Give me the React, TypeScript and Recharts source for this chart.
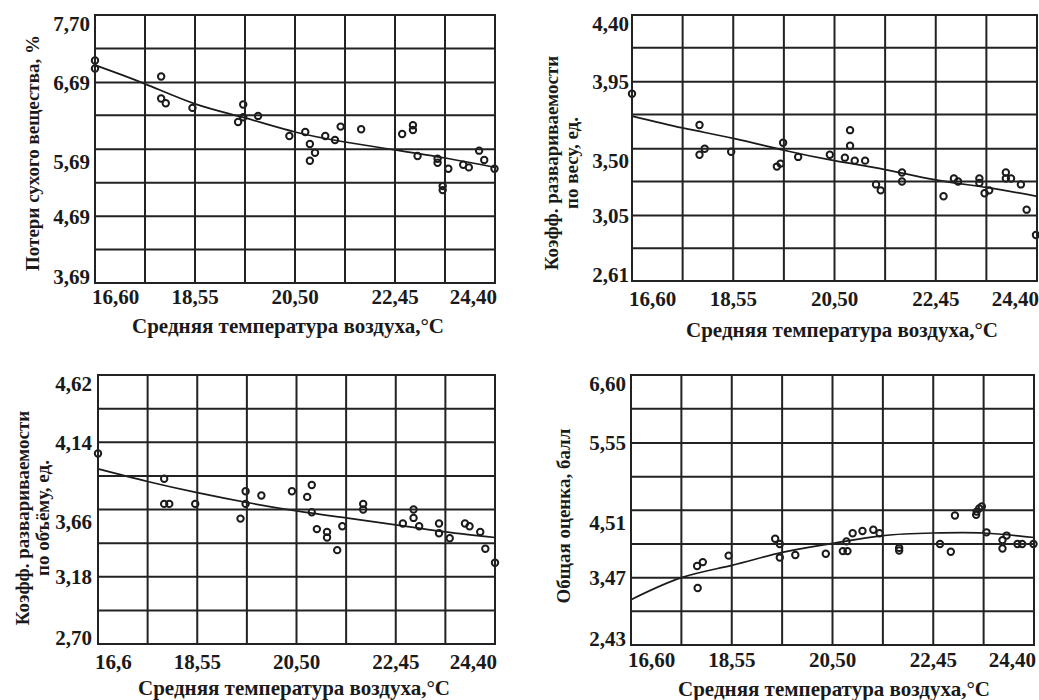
import React from 'react';
import { ComposedChart, Scatter, Line, XAxis, YAxis } from 'recharts';

// x grid: 8 columns, labels every second line
const xTicks = [16.6, 17.575, 18.55, 19.525, 20.5, 21.475, 22.45, 23.425, 24.4];
const xTickLabels = ['16,60', '', '18,55', '', '20,50', '', '22,45', '', '24,40'];
const xTickLabelsShort = ['16,6', '', '18,55', '', '20,50', '', '22,45', '', '24,40'];
const xTitle = 'Средняя температура воздуха,°С';

// панель 1 — потери сухого вещества
const lossTicks = [3.69, 4.19, 4.69, 5.19, 5.69, 6.2, 6.69, 7.2, 7.7];
const lossTickLabels = ['3,69', '', '4,69', '', '5,69', '', '6,69', '', '7,70'];
const lossCurve = [6.95, 6.67, 6.37, 6.16, 5.95, 5.8, 5.68, 5.56, 5.42];
const lossPoints = [
  { x: 16.6, y: 7.02 }, { x: 16.6, y: 6.9 }, { x: 17.89, y: 6.78 }, { x: 17.89, y: 6.45 },
  { x: 17.98, y: 6.38 }, { x: 18.5, y: 6.31 }, { x: 19.39, y: 6.1 }, { x: 19.49, y: 6.36 },
  { x: 19.49, y: 6.17 }, { x: 19.78, y: 6.19 }, { x: 20.39, y: 5.89 }, { x: 20.7, y: 5.95 },
  { x: 20.79, y: 5.77 }, { x: 20.79, y: 5.52 }, { x: 20.89, y: 5.64 }, { x: 21.09, y: 5.89 },
  { x: 21.28, y: 5.83 }, { x: 21.39, y: 6.03 }, { x: 21.79, y: 5.99 }, { x: 22.59, y: 5.92 },
  { x: 22.8, y: 6.05 }, { x: 22.8, y: 5.98 }, { x: 22.89, y: 5.59 }, { x: 23.28, y: 5.55 },
  { x: 23.28, y: 5.49 }, { x: 23.38, y: 5.14 }, { x: 23.38, y: 5.08 }, { x: 23.49, y: 5.4 },
  { x: 23.78, y: 5.46 }, { x: 23.89, y: 5.42 }, { x: 24.09, y: 5.67 }, { x: 24.19, y: 5.53 },
  { x: 24.39, y: 5.4 },
];

// панель 2 — коэфф. развариваемости по весу
const weightTicks = [2.61, 2.83, 3.05, 3.28, 3.5, 3.73, 3.95, 4.18, 4.4];
const weightTickLabels = ['2,61', '', '3,05', '', '3,50', '', '3,95', '', '4,40'];
const weightCurve = [3.72, 3.64, 3.57, 3.49, 3.42, 3.36, 3.29, 3.24, 3.18];
const weightPoints = [
  { x: 16.6, y: 3.87 }, { x: 17.9, y: 3.66 }, { x: 17.9, y: 3.46 }, { x: 18.0, y: 3.5 },
  { x: 18.51, y: 3.48 }, { x: 19.39, y: 3.38 }, { x: 19.46, y: 3.4 }, { x: 19.51, y: 3.54 },
  { x: 19.8, y: 3.445 }, { x: 20.41, y: 3.46 }, { x: 20.7, y: 3.44 }, { x: 20.8, y: 3.625 },
  { x: 20.8, y: 3.52 }, { x: 20.89, y: 3.42 }, { x: 21.09, y: 3.42 }, { x: 21.3, y: 3.26 },
  { x: 21.39, y: 3.22 }, { x: 21.8, y: 3.34 }, { x: 21.8, y: 3.28 }, { x: 22.6, y: 3.18 },
  { x: 22.8, y: 3.3 }, { x: 22.88, y: 3.28 }, { x: 23.29, y: 3.3 }, { x: 23.29, y: 3.27 },
  { x: 23.39, y: 3.2 }, { x: 23.48, y: 3.22 }, { x: 23.8, y: 3.34 }, { x: 23.8, y: 3.3 },
  { x: 23.9, y: 3.3 }, { x: 24.09, y: 3.26 }, { x: 24.2, y: 3.09 }, { x: 24.38, y: 2.92 },
];

// панель 3 — коэфф. развариваемости по объёму
const volumeTicks = [2.7, 2.94, 3.18, 3.42, 3.66, 3.9, 4.14, 4.38, 4.62];
const volumeTickLabels = ['2,70', '', '3,18', '', '3,66', '', '4,14', '', '4,62'];
const volumeCurve = [3.95, 3.86, 3.78, 3.71, 3.65, 3.6, 3.55, 3.5, 3.46];
const volumePoints = [
  { x: 16.6, y: 4.06 }, { x: 17.9, y: 3.88 }, { x: 17.9, y: 3.7 }, { x: 18.0, y: 3.7 },
  { x: 18.51, y: 3.7 }, { x: 19.4, y: 3.595 }, { x: 19.5, y: 3.79 }, { x: 19.5, y: 3.7 },
  { x: 19.81, y: 3.76 }, { x: 20.41, y: 3.79 }, { x: 20.71, y: 3.75 }, { x: 20.8, y: 3.835 },
  { x: 20.8, y: 3.64 }, { x: 20.9, y: 3.52 }, { x: 21.1, y: 3.5 }, { x: 21.1, y: 3.46 },
  { x: 21.3, y: 3.37 }, { x: 21.4, y: 3.54 }, { x: 21.81, y: 3.7 }, { x: 21.81, y: 3.66 },
  { x: 22.59, y: 3.56 }, { x: 22.8, y: 3.66 }, { x: 22.8, y: 3.6 }, { x: 22.91, y: 3.54 },
  { x: 23.3, y: 3.56 }, { x: 23.3, y: 3.49 }, { x: 23.51, y: 3.455 }, { x: 23.81, y: 3.56 },
  { x: 23.9, y: 3.54 }, { x: 24.11, y: 3.5 }, { x: 24.21, y: 3.38 }, { x: 24.4, y: 3.28 },
];

// панель 4 — общая оценка
const scoreTicks = [2.43, 2.95, 3.47, 3.99, 4.51, 5.03, 5.55, 6.08, 6.6];
const scoreTickLabels = ['2,43', '', '3,47', '', '4,51', '', '5,55', '', '6,60'];
const scoreCurve = [3.13, 3.47, 3.66, 3.86, 4.0, 4.12, 4.16, 4.16, 4.09];
const scorePoints = [
  { x: 17.88, y: 3.65 }, { x: 17.99, y: 3.71 }, { x: 17.89, y: 3.31 }, { x: 18.49, y: 3.81 },
  { x: 19.39, y: 4.07 }, { x: 19.48, y: 3.99 }, { x: 19.48, y: 3.78 }, { x: 19.78, y: 3.82 },
  { x: 20.37, y: 3.84 }, { x: 20.7, y: 3.88 }, { x: 20.79, y: 3.88 }, { x: 20.77, y: 4.03 },
  { x: 20.89, y: 4.155 }, { x: 21.08, y: 4.19 }, { x: 21.29, y: 4.21 }, { x: 21.41, y: 4.155 },
  { x: 21.79, y: 3.93 }, { x: 21.79, y: 3.89 }, { x: 22.58, y: 3.99 }, { x: 22.79, y: 3.87 },
  { x: 22.87, y: 4.43 }, { x: 23.28, y: 4.44 }, { x: 23.29, y: 4.49 }, { x: 23.34, y: 4.54 },
  { x: 23.39, y: 4.57 }, { x: 23.48, y: 4.17 }, { x: 23.79, y: 4.05 }, { x: 23.79, y: 3.92 },
  { x: 23.87, y: 4.12 }, { x: 24.08, y: 3.99 }, { x: 24.17, y: 3.99 }, { x: 24.39, y: 3.99 },
];

const FONT = "'Liberation Serif', 'DejaVu Serif', serif";
const INK = '#1a1a1a';
const GRID = '#222';
const X_MIN = xTicks[0];
const X_MAX = xTicks[xTicks.length - 1];

const Ring = (props: any) => {
  const { cx, cy } = props;
  if (cx == null || cy == null) return null;
  return <circle cx={cx} cy={cy} r={3.2} fill="none" stroke={INK} strokeWidth={2} />;
};

type PanelProps = {
  left: number;
  top: number;
  plotLeft: number;
  plotRight: number;
  plotTop: number;
  plotBottom: number;
  yTicks: number[];
  yLabels: string[];
  xLabels: string[];
  curve: number[];
  points: { x: number; y: number }[];
  yTitle: string[];
  yTitleX: number;
  yTitleY: number;
  xTitleX: number;
  xTitleY: number;
  xTickY: number;
  yTickGap: number;
};

const textStyle = { fontFamily: FONT, fontWeight: 700, color: INK, whiteSpace: 'nowrap' as const };

function Panel(p: PanelProps) {
  const width = 520;
  const height = 350;
  const yMin = p.yTicks[0];
  const yMax = p.yTicks[p.yTicks.length - 1];
  const curveData = xTicks.map((x, i) => ({ x, y: p.curve[i] }));

  // same linear mapping as the chart axes, used for the grid overlay
  const sx = (v: number) => p.plotLeft + ((v - X_MIN) / (X_MAX - X_MIN)) * (p.plotRight - p.plotLeft);
  const sy = (v: number) => p.plotBottom - ((v - yMin) / (yMax - yMin)) * (p.plotBottom - p.plotTop);

  const xTick = (t: any) => {
    const i = t.index;
    const label = p.xLabels[i];
    if (!label) return <g />;
    let anchor = 'middle';
    let x = t.x;
    if (i === 0) { anchor = 'start'; x = p.plotLeft - 3; }
    if (i === xTicks.length - 1) { anchor = 'end'; x = p.plotRight + 2; }
    return (
      <text x={x} y={p.xTickY} textAnchor={anchor} dy="0.35em"
        fontFamily={FONT} fontWeight={700} fontSize={21} fill={INK}>{label}</text>
    );
  };

  const yTick = (t: any) => {
    const i = t.index;
    const label = p.yLabels[i];
    if (!label) return <g />;
    let y = t.y;
    if (i === 0) y = p.plotBottom - 6;
    if (i === p.yTicks.length - 1) y = p.plotTop + 9;
    if (i === 4) y += 12;
    return (
      <text x={p.plotLeft - p.yTickGap} y={y} textAnchor="end" dy="0.35em"
        fontFamily={FONT} fontWeight={700} fontSize={21} fill={INK}>{label}</text>
    );
  };

  return (
    <div style={{ position: 'absolute', left: p.left, top: p.top, width, height }}>
      <ComposedChart width={width} height={height}
        margin={{ top: p.plotTop, right: width - p.plotRight, left: 0, bottom: 0 }}>
        <XAxis type="number" dataKey="x" domain={[X_MIN, X_MAX]} ticks={xTicks} interval={0}
          height={height - p.plotBottom} axisLine={false} tickLine={false} tick={xTick} />
        <YAxis type="number" dataKey="y" domain={[yMin, yMax]} ticks={p.yTicks} interval={0}
          width={p.plotLeft} axisLine={false} tickLine={false} tick={yTick} />
        <Line data={curveData} dataKey="y" type="natural" stroke={INK} strokeWidth={1.7}
          dot={false} activeDot={false} isAnimationActive={false} />
        <Scatter data={p.points} dataKey="y" shape={<Ring />} isAnimationActive={false} />
      </ComposedChart>
      {/* grid */}
      <svg width={width} height={height} style={{ position: 'absolute', left: 0, top: 0, pointerEvents: 'none' }}>
        {xTicks.map((v) => (
          <line key={'gx' + v} x1={sx(v)} x2={sx(v)} y1={p.plotTop - 1} y2={p.plotBottom + 1}
            stroke={GRID} strokeWidth={2} />
        ))}
        {p.yTicks.map((v) => (
          <line key={'gy' + v} x1={p.plotLeft - 1} x2={p.plotRight + 1} y1={sy(v)} y2={sy(v)}
            stroke={GRID} strokeWidth={2} />
        ))}
      </svg>
      {/* axis titles */}
      <div style={{ ...textStyle, position: 'absolute', left: p.yTitleX, top: p.yTitleY, fontSize: 19,
        lineHeight: '20px', textAlign: 'center', transform: 'translate(-50%, -50%) rotate(-90deg)' }}>
        {p.yTitle.map((line) => <div key={line}>{line}</div>)}
      </div>
      <div style={{ ...textStyle, position: 'absolute', left: p.xTitleX, top: p.xTitleY, fontSize: 21,
        lineHeight: '21px', transform: 'translate(-50%, -80%)' }}>{xTitle}</div>
    </div>
  );
}

export default function App() {
  return (
    <div style={{ position: 'absolute', left: 0, top: 0, width: 1039, height: 700, background: '#fff' }}>
      <Panel left={0} top={0} plotLeft={95} plotRight={495} plotTop={15} plotBottom={283}
        yTicks={lossTicks} yLabels={lossTickLabels} xLabels={xTickLabels}
        curve={lossCurve} points={lossPoints}
        yTitle={['Потери сухого вещества, %']} yTitleX={33} yTitleY={153}
        xTitleX={288} xTitleY={333} xTickY={297} yTickGap={5} />
      <Panel left={519} top={0} plotLeft={113} plotRight={518} plotTop={15} plotBottom={281}
        yTicks={weightTicks} yLabels={weightTickLabels} xLabels={xTickLabels}
        curve={weightCurve} points={weightPoints}
        yTitle={['Коэфф. развариваемости', 'по весу, ед.']} yTitleX={43} yTitleY={163}
        xTitleX={323} xTitleY={337} xTickY={299} yTickGap={3} />
      <Panel left={0} top={350} plotLeft={98} plotRight={495} plotTop={25} plotBottom={294}
        yTicks={volumeTicks} yLabels={volumeTickLabels} xLabels={xTickLabelsShort}
        curve={volumeCurve} points={volumePoints}
        yTitle={['Коэфф. развариваемости', 'по объёму, ед.']} yTitleX={33} yTitleY={168}
        xTitleX={294} xTitleY={345} xTickY={312} yTickGap={6} />
      <Panel left={519} top={350} plotLeft={112} plotRight={515} plotTop={25} plotBottom={295}
        yTicks={scoreTicks} yLabels={scoreTickLabels} xLabels={xTickLabels}
        curve={scoreCurve} points={scorePoints}
        yTitle={['Общая оценка, балл']} yTitleX={45} yTitleY={166}
        xTitleX={315} xTitleY={346} xTickY={310} yTickGap={5} />
    </div>
  );
}
